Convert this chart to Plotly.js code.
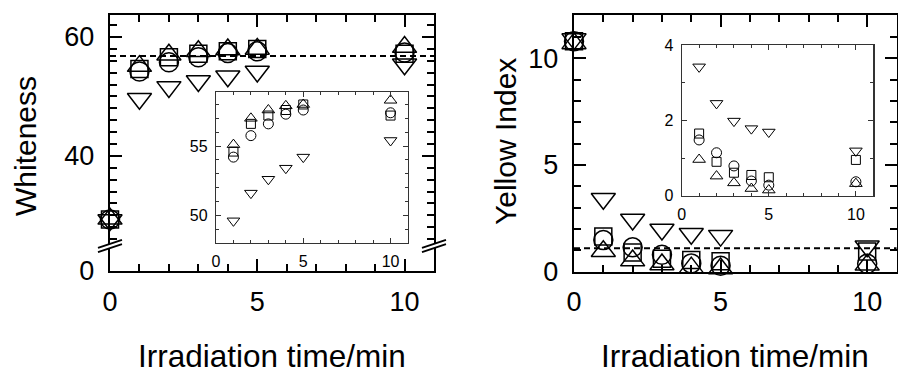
<!DOCTYPE html>
<html>
<head>
<meta charset="utf-8">
<script src="https://cdn.plot.ly/plotly-3.0.1.min.js"></script>
<style>html,body{margin:0;padding:0;background:#fff;}#chart{width:898px;height:376px;}</style>
</head>
<body>
<div id="chart"></div>
<script>
// ---------------- data ----------------
const time = [0, 1, 2, 3, 4, 5, 10];

// Whiteness
const whiteCircle  = [29.3, 54.2, 55.75, 56.6, 57.3, 57.6, 57.4];
const whiteSquare  = [29.3, 54.6, 56.6, 57.2, 57.6, 58.0, 57.2];
const whiteTriUp   = [29.4, 55.1, 57.0, 57.6, 57.9, 58.0, 58.3];
const whiteTriDown = [29.2, 49.6, 51.6, 52.6, 53.4, 54.2, 55.4];
const whiteRef = 56.8;

// Yellow Index
const yellowCircle  = [10.8, 1.48, 1.14, 0.79, 0.39, 0.28, 0.37];
const yellowSquare  = [10.8, 1.65, 0.90, 0.61, 0.55, 0.49, 0.95];
const yellowTriUp   = [10.7, 0.96, 0.52, 0.34, 0.19, 0.15, 0.32];
const yellowTriDown = [10.9, 3.42, 2.45, 1.98, 1.78, 1.69, 1.19];
const yellowRef = 1.1;

// tick labels
const xTicks = [0, 5, 10];
const whiteMainTicks = [40, 60];
const whiteBreakTicks = [0];
const whiteInsetTicks = [50, 55];
const yellowMainTicks = [0, 5, 10];
const yellowInsetTicks = [0, 2, 4];

const xTitle = 'Irradiation time/min';
const whiteTitle = 'Whiteness';
const yellowTitle = 'Yellow Index';

// ---------------- layout helpers ----------------
const W = 898, H = 376;
const px = v => v / W;
const py = v => 1 - v / H;
const FONT = 'Liberation Sans, Arial, Helvetica, sans-serif';

const symbols = [
  {sym: 'circle-open', main: 19, inset: 10, w: whiteCircle, y: yellowCircle},
  {sym: 'square-open', main: 17, inset: 9, w: whiteSquare, y: yellowSquare},
  {sym: 'triangle-up-open', main: 21, inset: 11, w: whiteTriUp, y: yellowTriUp},
  {sym: 'triangle-down-open', main: 21, inset: 11, w: whiteTriDown, y: yellowTriDown}
];

const traces = [];
// empty trace so that the lower (break) segment of the left panel exists as a subplot
traces.push({x: [], y: [], xaxis: 'x', yaxis: 'y2', type: 'scatter', mode: 'markers', showlegend: false, hoverinfo: 'skip'});
symbols.forEach(s => {
  const mk = (size, lw) => ({symbol: s.sym, size: size, color: '#000', line: {color: '#000', width: lw}});
  traces.push({x: time, y: s.w, xaxis: 'x2', yaxis: 'y', type: 'scatter', mode: 'markers',
    marker: mk(s.main, 1.5), cliponaxis: false, showlegend: false, hoverinfo: 'skip'});
  traces.push({x: time, y: s.y, xaxis: 'x3', yaxis: 'y3', type: 'scatter', mode: 'markers',
    marker: mk(s.main, 1.5), cliponaxis: false, showlegend: false, hoverinfo: 'skip'});
  traces.push({x: time, y: s.w, xaxis: 'x4', yaxis: 'y4', type: 'scatter', mode: 'markers',
    marker: mk(s.inset, 1), cliponaxis: true, showlegend: false, hoverinfo: 'skip'});
  traces.push({x: time, y: s.y, xaxis: 'x5', yaxis: 'y5', type: 'scatter', mode: 'markers',
    marker: mk(s.inset, 1), cliponaxis: true, showlegend: false, hoverinfo: 'skip'});
});

const mainTickFont = {family: FONT, size: 27, color: '#000'};
const insetTickFont = {family: FONT, size: 16, color: '#000'};

function mainAxis(extra) {
  return Object.assign({
    showline: true, linewidth: 2.2, linecolor: '#000', ticks: 'inside', ticklen: 12, tickwidth: 2,
    tickcolor: '#000', showgrid: false, zeroline: false, tickfont: mainTickFont, fixedrange: true,
    minor: {ticks: 'inside', dtick: 1, ticklen: 7, tickwidth: 2, tickcolor: '#000'}
  }, extra);
}
function insetAxis(extra) {
  return Object.assign({
    showline: true, linewidth: 1.2, linecolor: '#333', ticks: 'inside', ticklen: 5, tickwidth: 1,
    tickcolor: '#333', showgrid: false, zeroline: false, tickfont: insetTickFont, mirror: 'ticks',
    fixedrange: true, ticklabelstandoff: 4,
    minor: {ticks: 'inside', dtick: 1, ticklen: 3, tickwidth: 1, tickcolor: '#333'}
  }, extra);
}

const leftX = [px(110), px(434)];
const rightX = [px(574), px(896.5)];

const layout = {
  width: W, height: H,
  margin: {l: 0, r: 0, t: 0, b: 0},
  paper_bgcolor: '#fff', plot_bgcolor: 'rgba(0,0,0,0)',
  showlegend: false,
  font: {family: FONT, color: '#000'},
  // left main: bottom axis (with break segment)
  xaxis: mainAxis({domain: leftX, anchor: 'y2', range: [0, 11], tickvals: xTicks, ticklabelstandoff: 5}),
  xaxis2: mainAxis({domain: leftX, anchor: 'y', side: 'top', range: [0, 11], tickvals: xTicks, showticklabels: false}),
  yaxis: mainAxis({domain: [py(245), py(15)], anchor: 'x2', range: [25, 63.7], tickvals: whiteMainTicks,
    mirror: 'ticks', ticklabelstandoff: 8,
    minor: {ticks: 'inside', dtick: 2, ticklen: 7, tickwidth: 2, tickcolor: '#000'}}),
  yaxis2: mainAxis({domain: [py(271), py(245)], anchor: 'x', range: [0, 4.4], tickvals: whiteBreakTicks,
    mirror: true, ticklen: 0, ticklabelstandoff: 8, minor: {ticks: ''}}),
  // right main
  xaxis3: mainAxis({domain: rightX, anchor: 'y3', range: [0, 11], tickvals: xTicks, mirror: 'ticks', ticklabelstandoff: 5}),
  yaxis3: mainAxis({domain: [py(271.7), py(15)], anchor: 'x3', range: [0, 12.03], tickvals: yellowMainTicks,
    mirror: 'ticks', ticklabelstandoff: 8}),
  // insets
  xaxis4: insetAxis({domain: [px(216), px(408)], anchor: 'y4', range: [0, 11], tickvals: xTicks}),
  yaxis4: insetAxis({domain: [py(243), py(92)], anchor: 'x4', range: [48, 58.9], tickvals: whiteInsetTicks}),
  xaxis5: insetAxis({domain: [px(681.7), px(873.3)], anchor: 'y5', range: [0, 11], tickvals: xTicks}),
  yaxis5: insetAxis({domain: [py(195.7), py(45)], anchor: 'x5', range: [0, 4], tickvals: yellowInsetTicks}),
  shapes: [
    // inset backgrounds
    {type: 'rect', xref: 'x4 domain', yref: 'y4 domain', x0: 0, x1: 1, y0: 0, y1: 1, fillcolor: '#fff', line: {width: 0}, layer: 'below'},
    {type: 'rect', xref: 'x5 domain', yref: 'y5 domain', x0: 0, x1: 1, y0: 0, y1: 1, fillcolor: '#fff', line: {width: 0}, layer: 'below'},
    // reference dashed lines
    {type: 'line', xref: 'x2 domain', yref: 'y', x0: 0, x1: 1, y0: whiteRef, y1: whiteRef,
      line: {color: '#000', width: 2, dash: '6px,4px'}, layer: 'below'},
    {type: 'line', xref: 'x3 domain', yref: 'y3', x0: 0, x1: 1, y0: yellowRef, y1: yellowRef,
      line: {color: '#000', width: 2, dash: '6px,4px'}, layer: 'below'}
  ],
  annotations: [
    {text: whiteTitle, xref: 'paper', yref: 'paper', x: px(25), y: py(146), textangle: -90, showarrow: false,
      xanchor: 'center', yanchor: 'middle', font: {family: FONT, size: 30, color: '#000'}},
    {text: yellowTitle, xref: 'paper', yref: 'paper', x: px(505), y: py(142), textangle: -90, showarrow: false,
      xanchor: 'center', yanchor: 'middle', font: {family: FONT, size: 30, color: '#000'}},
    {text: xTitle, xref: 'paper', yref: 'paper', x: px(272), y: 0, showarrow: false,
      xanchor: 'center', yanchor: 'bottom', font: {family: FONT, size: 31.5, color: '#000'}},
    {text: xTitle, xref: 'paper', yref: 'paper', x: px(735), y: 0, showarrow: false,
      xanchor: 'center', yanchor: 'bottom', font: {family: FONT, size: 31.5, color: '#000'}}
  ]
};

// axis break marks (left panel, both sides)
[110, 434].forEach(cx => {
  const cy = 246;
  layout.shapes.push({type: 'rect', xref: 'paper', yref: 'paper', x0: px(cx - 4), x1: px(cx + 4),
    y0: py(cy + 2), y1: py(cy - 2), fillcolor: '#fff', line: {width: 0}, layer: 'above'});
  [-2.2, 2.2].forEach(d => {
    layout.shapes.push({type: 'line', xref: 'paper', yref: 'paper',
      x0: px(cx - 12), y0: py(cy + 4 + d), x1: px(cx + 12), y1: py(cy - 4 + d),
      line: {color: '#000', width: 1.8}, layer: 'above'});
  });
});

Plotly.newPlot('chart', traces, layout, {staticPlot: true, displayModeBar: false});
</script>
</body>
</html>
